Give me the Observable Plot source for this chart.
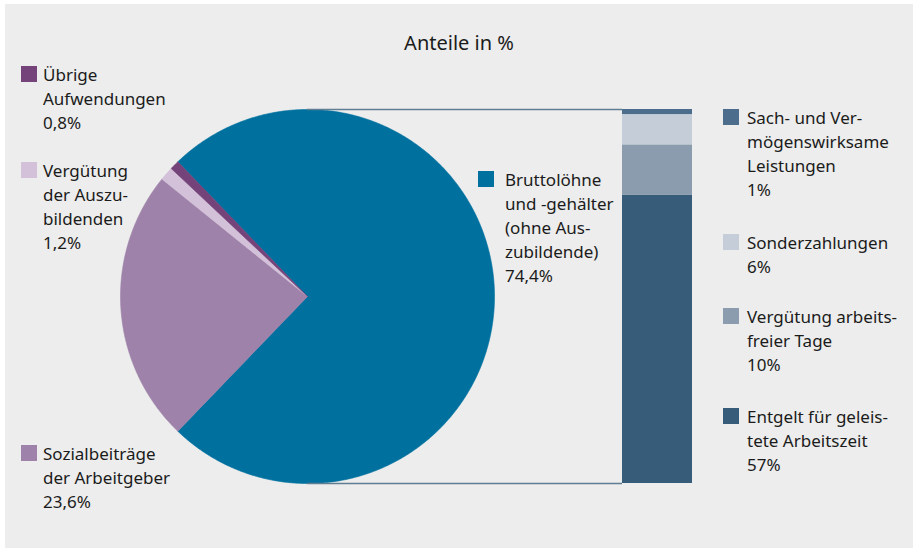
<!DOCTYPE html>
<html>
<head>
<meta charset="utf-8">
<script src="https://cdn.jsdelivr.net/npm/d3@7"></script>
<script src="https://cdn.jsdelivr.net/npm/@observablehq/plot@0.6"></script>
<style>
  html, body { margin: 0; padding: 0; background: #ffffff; overflow: hidden; }
  #wrap { position: relative; width: 913px; height: 548px; overflow: hidden;
          font-family: "Noto Sans", sans-serif; color: #1b1b1b; }
  #panel { position: absolute; left: 5px; top: 4px; right: 0; bottom: 0; background: #ecedec; }
  #chart { position: absolute; left: 0; top: 0; }
  .title { position: absolute; left: 0; width: 918px; text-align: center; font-size: 20px; line-height: 24px; }
  .lbl { position: absolute; font-size: 17px; line-height: 24px; white-space: nowrap; }
  .sw { position: absolute; width: 16px; height: 16px; }
</style>
</head>
<body>
<div id="wrap">
  <div id="panel"></div>
  <div id="chart"></div>
</div>
<script>
// ---------- data ----------
const pieCategories = ["Bruttolöhne und -gehälter (ohne Auszubildende)", "Sozialbeiträge der Arbeitgeber", "Vergütung der Auszubildenden", "Übrige Aufwendungen"];
const pieShares = [74.4, 23.6, 1.2, 0.8];
const pieLabelLines = [
  ["Bruttolöhne", "und -gehälter", "(ohne Aus-", "zubildende)"],
  ["Sozialbeiträge", "der Arbeitgeber"],
  ["Vergütung", "der Auszu-", "bildenden"],
  ["Übrige", "Aufwendungen"]
];
// stacked bar, bottom to top
const barCategories = ["Entgelt für geleistete Arbeitszeit", "Vergütung arbeitsfreier Tage", "Sonderzahlungen", "Sach- und Vermögenswirksame Leistungen"];
const barShares = [57, 10, 6, 1];
const barLabelLines = [
  ["Entgelt für geleis-", "tete Arbeitszeit"],
  ["Vergütung arbeits-", "freier Tage"],
  ["Sonderzahlungen"],
  ["Sach- und Ver-", "mögenswirksame", "Leistungen"]
];
const titleText = "Anteile in %";

// ---------- styles ----------
const pieColors = ["#00709f", "#9e82a9", "#d3c0d9", "#744379"];
const barColors = ["#365c79", "#8a9cae", "#c5cdd8", "#4c6e8c"];
const connectorColor = "#5f7d93";

// ---------- layout ----------
const W = 913, H = 548;
const R = 187;            // pixels per unit (pie radius)
const cx = 307, cy = 296; // pie centre in pixels
const barLeftPx = 622, barRightPx = 692;
const bx0 = (barLeftPx - cx) / R, bx1 = (barRightPx - cx) / R;

// pie polygons (angles clockwise from 12 o'clock), main slice centred on the right
const pieTotal = d3.sum(pieShares);
let acc = 90 - pieShares[0] / pieTotal * 180;
const piePts = [];
pieCategories.forEach((key, i) => {
  const a0 = acc, a1 = acc + pieShares[i] / pieTotal * 360;
  acc = a1;
  piePts.push({key, x: 0, y: 0});
  const n = Math.max(2, Math.ceil((a1 - a0) / 0.5));
  for (let k = 0; k <= n; k++) {
    const a = (a0 + (a1 - a0) * k / n) * Math.PI / 180;
    piePts.push({key, x: Math.sin(a), y: Math.cos(a)});
  }
  piePts.push({key, x: 0, y: 0});
});

// stacked bar spanning the pie's diameter
const barTotal = d3.sum(barShares);
let cum = 0;
const barRows = barCategories.map((key, i) => {
  const y1 = -1 + cum / barTotal * 2;
  cum += barShares[i];
  return {key, y1, y2: -1 + cum / barTotal * 2};
});

const chart = Plot.plot({
  width: W,
  height: H,
  margin: 0,
  style: {background: "transparent"},
  x: {domain: [-cx / R, (W - cx) / R], axis: null},
  y: {domain: [-(H - cy) / R, cy / R], axis: null},
  color: {type: "ordinal", domain: pieCategories.concat(barCategories), range: pieColors.concat(barColors)},
  marks: [
    Plot.line(piePts, {x: "x", y: "y", z: "key", fill: "key", stroke: "key", strokeWidth: 0.6, curve: "linear"}),
    Plot.rect(barRows, {x1: bx0, x2: bx1, y1: "y1", y2: "y2", fill: "key"}),
    Plot.ruleY([-1, 1], {x1: 0, x2: bx0, stroke: connectorColor, strokeWidth: 1.5})
  ]
});
document.getElementById("chart").appendChild(chart);

// ---------- labels (HTML overlay) ----------
const wrap = document.getElementById("wrap");
const fmt = v => v.toLocaleString("de-DE") + "%";
const colorOf = k => { const i = pieCategories.indexOf(k); return i >= 0 ? pieColors[i] : barColors[barCategories.indexOf(k)]; };

const t = document.createElement("div");
t.className = "title";
t.style.top = "31px";
t.textContent = titleText;
wrap.appendChild(t);

// first-line baselines and x positions per legend entry
const labelLayout = {
  [pieCategories[0]]: {sx: 478, tx: 505, base: 187},
  [pieCategories[1]]: {sx: 21, tx: 43, base: 461},
  [pieCategories[2]]: {sx: 21, tx: 43, base: 178},
  [pieCategories[3]]: {sx: 21, tx: 43, base: 82},
  [barCategories[0]]: {sx: 723, tx: 747, base: 424},
  [barCategories[1]]: {sx: 723, tx: 747, base: 324},
  [barCategories[2]]: {sx: 723, tx: 747, base: 250},
  [barCategories[3]]: {sx: 723, tx: 747, base: 125}
};
function addLabel(key, lines, value) {
  const L = labelLayout[key];
  const sw = document.createElement("div");
  sw.className = "sw";
  sw.style.left = L.sx + "px";
  sw.style.top = (L.base - 16) + "px";
  sw.style.background = colorOf(key);
  wrap.appendChild(sw);
  const d = document.createElement("div");
  d.className = "lbl";
  d.style.left = L.tx + "px";
  d.style.top = (L.base - 18.6) + "px";
  lines.concat([fmt(value)]).forEach((ln, i) => {
    if (i) d.appendChild(document.createElement("br"));
    d.appendChild(document.createTextNode(ln));
  });
  wrap.appendChild(d);
}
pieCategories.forEach((k, i) => addLabel(k, pieLabelLines[i], pieShares[i]));
barCategories.forEach((k, i) => addLabel(k, barLabelLines[i], barShares[i]));
</script>
</body>
</html>
